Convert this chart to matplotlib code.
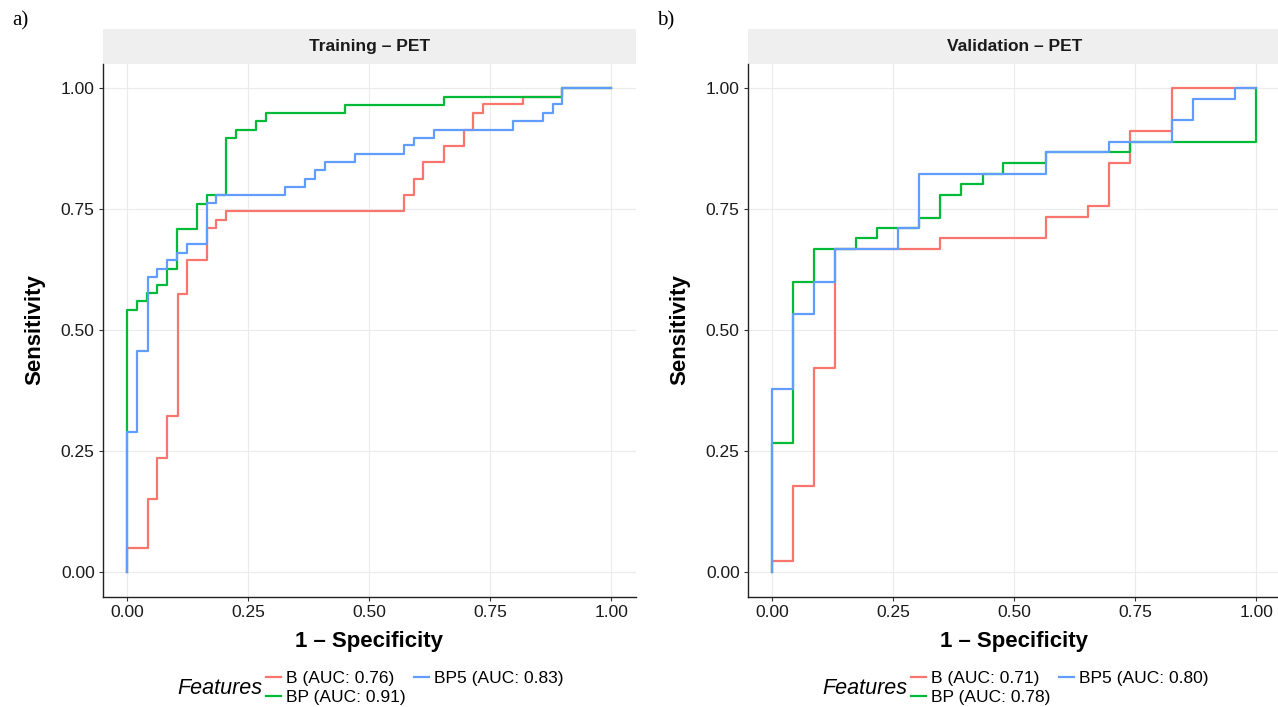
import matplotlib
matplotlib.use('Agg')
import matplotlib.pyplot as plt
from matplotlib.lines import Line2D
from matplotlib.patches import Rectangle

plt.rcParams['font.family'] = ['Liberation Sans', 'DejaVu Sans']

# ROC step corners (1 - specificity, sensitivity)
# Training - PET
tr_b_fpr = [0, 0.042, 0.062, 0.083, 0.104, 0.123, 0.165, 0.184, 0.204, 0.572, 0.592,
            0.612, 0.655, 0.696, 0.715, 0.736, 0.818, 0.898, 1.0]
tr_b_tpr = [0, 0.051, 0.152, 0.237, 0.322, 0.576, 0.645, 0.711, 0.729, 0.746, 0.779,
            0.813, 0.848, 0.881, 0.915, 0.949, 0.968, 0.983, 1.0]
tr_bp_fpr = [0, 0.021, 0.041, 0.062, 0.082, 0.103, 0.144, 0.165, 0.204, 0.225, 0.266,
             0.287, 0.450, 0.654, 0.898, 1.0]
tr_bp_tpr = [0, 0.543, 0.560, 0.577, 0.593, 0.627, 0.710, 0.762, 0.779, 0.898, 0.915,
             0.932, 0.949, 0.966, 0.983, 1.0]
tr_bp5_fpr = [0, 0.021, 0.042, 0.062, 0.082, 0.103, 0.123, 0.165, 0.184, 0.326, 0.368,
              0.388, 0.409, 0.470, 0.572, 0.592, 0.633, 0.797, 0.858, 0.879, 0.898, 1.0]
tr_bp5_tpr = [0, 0.289, 0.457, 0.610, 0.627, 0.645, 0.660, 0.678, 0.763, 0.779, 0.796,
              0.813, 0.831, 0.848, 0.865, 0.882, 0.898, 0.915, 0.932, 0.949, 0.967, 1.0]

# Validation - PET
va_b_fpr = [0, 0.043, 0.087, 0.130, 0.347, 0.565, 0.652, 0.696, 0.739, 0.826, 1.0]
va_b_tpr = [0, 0.023, 0.179, 0.423, 0.668, 0.690, 0.735, 0.757, 0.845, 0.912, 1.0]
va_bp_fpr = [0, 0.043, 0.086, 0.173, 0.217, 0.304, 0.347, 0.391, 0.435, 0.477, 0.565,
             0.739, 1.0, 1.0]
va_bp_tpr = [0, 0.268, 0.600, 0.668, 0.690, 0.712, 0.733, 0.779, 0.802, 0.823, 0.845,
             0.868, 0.890, 1.0]
va_bp5_fpr = [0, 0.043, 0.086, 0.130, 0.260, 0.304, 0.565, 0.696, 0.826, 0.869, 0.956, 1.0]
va_bp5_tpr = [0, 0.378, 0.534, 0.600, 0.668, 0.712, 0.823, 0.868, 0.890, 0.934, 0.978, 1.0]

tr_labels = ['B (AUC: 0.76)', 'BP (AUC: 0.91)', 'BP5 (AUC: 0.83)']
va_labels = ['B (AUC: 0.71)', 'BP (AUC: 0.78)', 'BP5 (AUC: 0.80)']
colors = ['#F8766D', '#00BA38', '#619CFF']
ticks = [0, 0.25, 0.5, 0.75, 1.0]
tick_labels = ['0.00', '0.25', '0.50', '0.75', '1.00']

W, H = 1278, 707
fig = plt.figure(figsize=(W / 100, H / 100), dpi=100)

panels = [
    ('Training \u2013 PET', 'a)', [(tr_b_fpr, tr_b_tpr), (tr_bp_fpr, tr_bp_tpr), (tr_bp5_fpr, tr_bp5_tpr)], tr_labels, 0),
    ('Validation \u2013 PET', 'b)', [(va_b_fpr, va_b_tpr), (va_bp_fpr, va_bp_tpr), (va_bp5_fpr, va_bp5_tpr)], va_labels, 645),
]

for title, tag, curves, labels, dx in panels:
    ax = fig.add_axes([(103 + dx) / W, (H - 596.5) / H, 532.5 / W, 532.3 / H])
    for (fx, ty), c in zip(curves, colors):
        ax.plot(fx, ty, drawstyle='steps-pre', color=c, lw=1.6)
    ax.set_xlim(-0.05, 1.05)
    ax.set_ylim(-0.05, 1.05)
    ax.set_xticks(ticks)
    ax.set_xticklabels(tick_labels)
    ax.set_yticks(ticks)
    ax.set_yticklabels(tick_labels)
    ax.grid(True, color='#EBEBEB', lw=0.8)
    ax.set_axisbelow(True)
    for s in ['top', 'right']:
        ax.spines[s].set_visible(False)
    for s in ['left', 'bottom']:
        ax.spines[s].set_color('#222222')
        ax.spines[s].set_linewidth(1.0)
    ax.tick_params(length=3, width=0.8, color='#333333', pad=3,
                   labelsize=12.5, labelcolor='#1A1A1A')

    # facet strip
    ax.add_patch(Rectangle((0, 1), 1, 35 / 532.3, transform=ax.transAxes,
                           facecolor='#EFEFEF', edgecolor='none', clip_on=False))
    ax.text(0.5, 1 + 17.5 / 532.3, title, transform=ax.transAxes, ha='center',
            va='center', fontsize=12.5, fontweight='bold', color='#1A1A1A')

    fig.text((12 + dx) / W, 1 - 21 / H, tag, ha='left', va='center', fontsize=15,
             family=['Liberation Serif', 'DejaVu Serif'])
    fig.text((35 + dx) / W, 1 - 330 / H, 'Sensitivity', rotation=90, ha='center',
             va='center', fontsize=16, fontweight='bold')
    fig.text((369 + dx) / W, 1 - 641 / H, '1 \u2013 Specificity', ha='center',
             va='center', fontsize=16, fontweight='bold')

    # legend
    fig.text((177 + dx) / W, 1 - 688 / H, 'Features', ha='left', va='center',
             fontsize=15.5, style='italic')
    handles = [Line2D([], [], color=c, lw=1.6) for c in colors]
    fig.legend(handles, labels, ncol=2, loc='center left',
               bbox_to_anchor=((266 + dx) / W, 1 - 688 / H), frameon=False,
               fontsize=12.5, handlelength=0.85, handletextpad=0.3,
               columnspacing=0.5, labelspacing=0.18, borderpad=0, borderaxespad=0)

fig.savefig('out.png', dpi=100)
